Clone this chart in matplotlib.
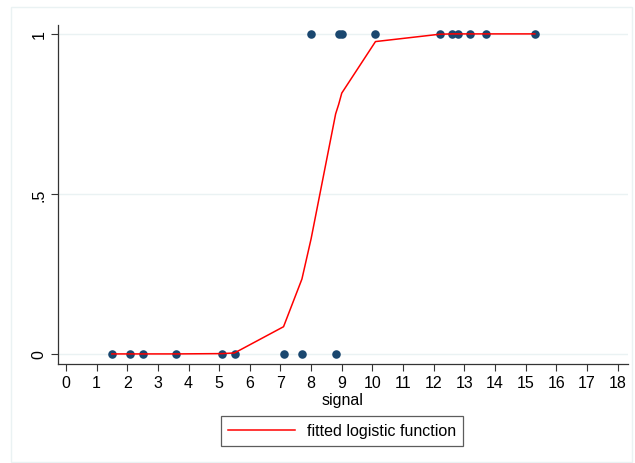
import matplotlib.pyplot as plt
from matplotlib.patches import Rectangle
from matplotlib.lines import Line2D

plt.rcParams['font.family'] = ['Liberation Sans', 'DejaVu Sans']

# observed outcomes
signal_0 = [1.5, 2.1, 2.5, 3.6, 5.1, 5.5, 7.1, 7.7, 8.8]
signal_1 = [8.0, 8.9, 9.0, 10.1, 12.2, 12.6, 12.8, 13.2, 13.7, 15.3]

# fitted probabilities at each sorted signal value
fit_x = [1.5, 2.1, 2.5, 3.6, 5.1, 5.5, 7.1, 7.7, 8.0, 8.8, 8.9, 9.0,
         10.1, 12.2, 12.6, 12.8, 13.2, 13.7, 15.3]
fit_p = [0.0, 0.0, 0.0, 0.0, 0.001, 0.003, 0.085, 0.234, 0.36, 0.75, 0.78, 0.815,
         0.976, 0.999, 1.0, 1.0, 1.0, 1.0, 1.0]

x_ticks = list(range(0, 19))
y_ticks = [0, 0.5, 1]
y_labels = ['0', '.5', '1']

navy = '#1a476f'
grid_col = '#eaf2f3'

fig = plt.figure(figsize=(6.35, 4.64), dpi=100)
fig.patches.append(Rectangle((11 / 635, 1 / 464), 621 / 635, 455 / 464,
                             transform=fig.transFigure, fill=False,
                             edgecolor=grid_col, linewidth=1.0))
ax = fig.add_axes([0.0913, 0.2144, 0.8972, 0.7304])

ax.scatter(signal_0, [0] * len(signal_0), s=38, color=navy, zorder=3, linewidths=0)
ax.scatter(signal_1, [1] * len(signal_1), s=38, color=navy, zorder=3, linewidths=0)
ax.plot(fit_x, fit_p, color='red', linewidth=1.1, zorder=4)

ax.set_xlim(-0.26, 18.33)
ax.set_ylim(-0.030, 1.029)
ax.set_xticks(x_ticks)
ax.set_yticks(y_ticks)
ax.set_yticklabels(y_labels, rotation=90, va='center')
ax.tick_params(labelsize=11.5, length=5, width=0.8, color='#333333', pad=3)

for v in y_ticks:
    ax.axhline(v, color=grid_col, linewidth=1.0, zorder=1)

for side in ['top', 'right']:
    ax.spines[side].set_visible(False)
for side in ['left', 'bottom']:
    ax.spines[side].set_color('#333333')
    ax.spines[side].set_linewidth(0.9)

ax.set_xlabel('signal', fontsize=11.5, labelpad=2)

handle = Line2D([], [], color='red', linewidth=1.1)
leg = fig.legend([handle], ['fitted logistic function'], loc='center',
                 bbox_to_anchor=(342 / 635, 1 - 432 / 464), fontsize=11.5,
                 frameon=True, fancybox=False, edgecolor='#333333',
                 handlelength=4.2, borderpad=0.45, handletextpad=0.7)
leg.get_frame().set_linewidth(0.9)

fig.savefig('out.png', dpi=100)
